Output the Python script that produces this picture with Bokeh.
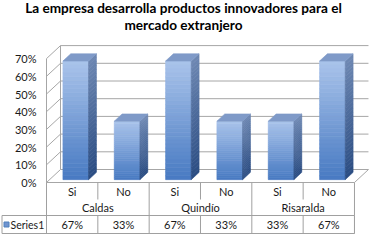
from bokeh.plotting import figure
from bokeh.models import Range1d
from bokeh.core.properties import value
from bokeh.embed import file_html
from bokeh.resources import INLINE

# ---- data ----
title_lines = ["La empresa desarrolla productos innovadores para el", "mercado extranjero"]
regions = ["Caldas", "Quindío", "Risaralda"]
answers = ["Si", "No"]
series_name = "Series1"
values = [0.67, 0.33, 0.67, 0.33, 0.33, 0.67]
y_ticks = [0.0, 0.1, 0.2, 0.3, 0.4, 0.5, 0.6, 0.7]
y_max = 0.7

# ---- layout constants (pixels) ----
W, H = 369, 234
SX = 51.33     # px per category slot
SY = 177.0     # px per 100 %
X0 = 46.0      # px from frame left to front-left floor corner
Y0 = 52.0      # px from frame bottom to front floor edge
DX, DY = 14.0 / SX, 13.0 / SY   # 3D depth offset in data units
n = len(values)
FONT = "Lato"

p = figure(width=W, height=H, output_backend="svg", toolbar_location=None,
           x_range=Range1d(-X0 / SX, (W - X0) / SX),
           y_range=Range1d(-Y0 / SY, (H - Y0) / SY),
           x_axis_location=None, y_axis_location=None,
           min_border=0, outline_line_color=None,
           background_fill_color="white", border_fill_color="white")
p.grid.visible = False


def pt(x, y, d):
    return x + d * DX, y + d * DY


def hx(px):  # horizontal px offset -> data units
    return px / SX


def vy(px):
    return px / SY


GRID = "#a6a6a6"

# ---- walls & floor ----
gx, gy = [], []
for t in y_ticks:
    a, b, c = pt(0, t, 0), pt(0, t, 1), pt(n, t, 1)
    gx.append([a[0], b[0], c[0]])
    gy.append([a[1], b[1], c[1]])
for d in (0, 1):
    a, b = pt(0, 0, d), pt(0, y_max, d)
    gx.append([a[0], b[0]]); gy.append([a[1], b[1]])
a, b, c = pt(0, 0, 0), pt(n, 0, 0), pt(n, 0, 1)
gx.append([a[0], b[0], c[0]]); gy.append([a[1], b[1], c[1]])
p.multi_line(gx, gy, line_color=GRID, line_width=1)

# ---- 3D bars with gradient ----
def lerp(c1, c2, t):
    return "#%02x%02x%02x" % tuple(int(round(a + (b - a) * t)) for a, b in zip(c1, c2))

FRONT_TOP, FRONT_BOT = (170, 196, 235), (72, 122, 194)
SIDE_TOP, SIDE_BOT = (110, 136, 179), (42, 76, 130)
TOP_FACE = "#7f9ac8"
f1, f2 = 0.22, 0.78
N = 30
fl, fr, fb, ft, fc = [], [], [], [], []
sxs, sys, sc = [], [], []
txs, tys = [], []
for i, v in enumerate(values):
    L, R = i + 0.26, i + 0.76
    for k in range(N):
        y0 = v * (N - 1 - k) / N
        y1 = v * (N - k) / N
        t = (k + 0.5) / N
        fl.append(L + f1 * DX); fr.append(R + f1 * DX)
        fb.append(y0 + f1 * DY); ft.append(y1 + f1 * DY)
        fc.append(lerp(FRONT_TOP, FRONT_BOT, t))
        a, b, c, d = pt(R, y0, f1), pt(R, y0, f2), pt(R, y1, f2), pt(R, y1, f1)
        sxs.append([a[0], b[0], c[0], d[0]]); sys.append([a[1], b[1], c[1], d[1]])
        sc.append(lerp(SIDE_TOP, SIDE_BOT, t))
    a, b, c, d = pt(L, v, f1), pt(R, v, f1), pt(R, v, f2), pt(L, v, f2)
    txs.append([a[0], b[0], c[0], d[0]]); tys.append([a[1], b[1], c[1], d[1]])

p.quad(left=fl, right=fr, bottom=fb, top=ft, fill_color=fc, line_color=fc, line_width=0.6)
p.patches(sxs, sys, fill_color=sc, line_color=sc, line_width=0.6)
p.patches(txs, tys, fill_color=TOP_FACE, line_color=TOP_FACE, line_width=0.6)

# ---- y tick labels ----
p.text(x=[-hx(10)] * len(y_ticks), y=y_ticks, text=["%d%%" % round(t * 100) for t in y_ticks],
       text_align="right", text_baseline="middle", text_font=value(FONT),
       text_font_size="11px", text_color="#1a1a1a")

# ---- data table ----
r1 = -vy(17)
r2 = -vy(33)
r3 = -vy(51)
xl = hx(1.5 - X0)
TL = "#a0a0a0"
lx, ly = [], []
for k in range(n + 1):
    bottom = r2 if k % len(answers) == 0 else r1
    lx.append([k, k]); ly.append([0, bottom])
    lx.append([k, k]); ly.append([r2, r3])
lx.append([xl, n, n, xl, xl]); ly.append([r2, r2, r3, r3, r2])
p.multi_line(lx, ly, line_color=TL, line_width=1)

cat_x = [i + 0.5 for i in range(n)]
p.text(x=cat_x, y=[(0 + r1) / 2] * n, text=[answers[i % len(answers)] for i in range(n)],
       text_align="center", text_baseline="middle", text_font=value(FONT),
       text_font_size="11px", text_color="#1a1a1a")
p.text(x=[g * len(answers) + len(answers) / 2 for g in range(len(regions))],
       y=[(r1 + r2) / 2] * len(regions), text=regions,
       text_align="center", text_baseline="middle", text_font=value(FONT),
       text_font_size="11px", text_color="#1a1a1a")
p.text(x=cat_x, y=[(r2 + r3) / 2] * n, text=["%d%%" % round(v * 100) for v in values],
       text_align="center", text_baseline="middle", text_font=value(FONT),
       text_font_size="11px", text_color="#1a1a1a")
p.scatter(x=[hx(6 - X0)], y=[(r2 + r3) / 2], marker="square", size=5,
          fill_color="#6f93cf", line_color="#4f81bd")
p.text(x=[hx(10 - X0)], y=[(r2 + r3) / 2], text=[series_name],
       text_align="left", text_baseline="middle", text_font=value(FONT),
       text_font_size="10.5px", text_color="#1a1a1a")

# ---- title ----
p.text(x=[hx(183 - X0)] * 2, y=[vy(227 - Y0), vy(210 - Y0)], text=title_lines,
       text_align="center", text_baseline="middle", text_font=value(FONT),
       text_font_size="13.6px", text_font_style="bold", text_color="#000000")

open("out.html", "w").write(file_html(p, INLINE))
